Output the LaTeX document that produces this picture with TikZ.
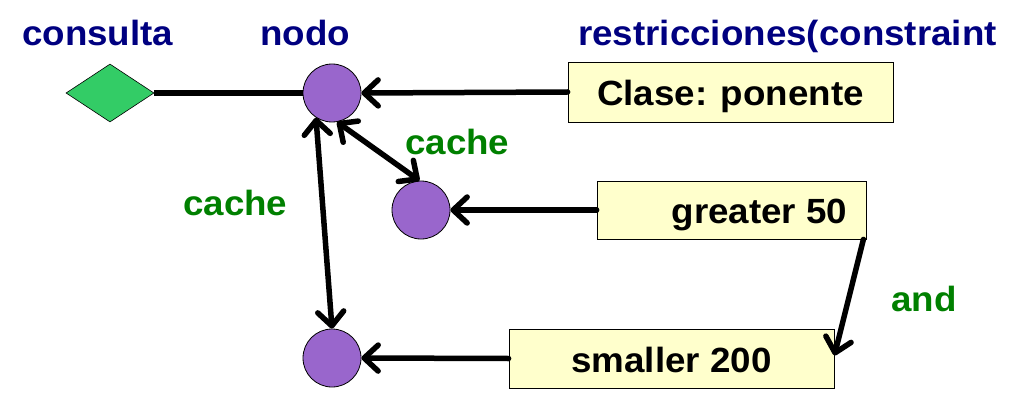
\documentclass[tikz,border=0pt]{standalone}
\usepackage{fontspec}
\setmainfont{Liberation Sans}
\usetikzlibrary{arrows.meta,shapes.geometric,calc}
\definecolor{hdrblue}{HTML}{000080}
\definecolor{lblgreen}{HTML}{008000}
\definecolor{boxfill}{HTML}{FFFFCC}
\definecolor{nodepurple}{HTML}{9966CC}
\definecolor{diagreen}{HTML}{33CC66}
\newcommand{\wtxt}[1]{\scalebox{1.05}[1]{#1}}
\begin{document}
\begin{tikzpicture}[x=1pt,y=1pt,
  font=\fontsize{35}{42}\selectfont\bfseries,
  header/.style={anchor=base west,inner sep=0pt,text=hdrblue},
  lbl/.style={anchor=base west,inner sep=0pt,text=lblgreen},
  circ/.style={circle,draw=black,line width=0.8pt,fill=nodepurple,minimum size=58pt,inner sep=0pt},
  cbox/.style={rectangle,draw=black,line width=0.8pt,fill=boxfill,inner sep=0pt,text height=27pt,text depth=0pt},
  conn/.style={line width=5.5pt,line cap=round},
  arr/.style={conn,-{Straight Barb[length=14pt,width=26pt,line width=5.5pt,round]}},
  darr/.style={conn,{Straight Barb[length=14pt,width=26pt,line width=5.5pt,round]}-{Straight Barb[length=14pt,width=26pt,line width=5.5pt,round]}}
]
\useasboundingbox (0,0) rectangle (1030,-401);

% headers
\node[header] (hq) at (22,-46) {\wtxt{consulta}};
\node[header] (hn) at (260,-46) {\wtxt{nodo}};
\node[header] (hr) at (578,-46) {\wtxt{restricciones(constraint}};

% shapes
\node[diamond,draw=black,line width=0.6pt,fill=diagreen,minimum width=88pt,minimum height=58pt,inner sep=0pt] (q) at (110,-93) {};
\node[circ] (c1) at (332,-93) {};
\node[circ] (c2) at (421,-210) {};
\node[circ] (c3) at (332,-358) {};

\node[cbox,minimum width=325pt,minimum height=60pt] (b1) at (730.5,-92) {\wtxt{Clase: ponente}};
\node[cbox,minimum width=269pt,minimum height=58pt] (b2) at (731.5,-210) {\hspace*{56pt}\wtxt{greater 50}};
\node[cbox,minimum width=325pt,minimum height=59pt] (b3) at (671.5,-358.5) {\wtxt{smaller 200}};

% labels
\node[lbl] (l1) at (405,-154) {\wtxt{cache}};
\node[lbl] (l2) at (183,-215) {\wtxt{cache}};
\node[lbl] (l3) at (891,-311) {\wtxt{and}};

% connectors
\draw[conn,line cap=butt] (q.east) -- (c1.west);
\draw[arr] (b1.west) -- (c1.east);
\draw[arr] (b2.west) -- (c2.east);
\draw[arr] (b3.west) -- (c3.east);
\draw[darr] (c1.280) -- (c2.93);
\draw[darr] (c1.237) -- (c3.north);
\draw[arr] ($(b2.south east)+(-3,0)$) -- ($(b3.east)+(0,3)$);
\end{tikzpicture}
\end{document}
